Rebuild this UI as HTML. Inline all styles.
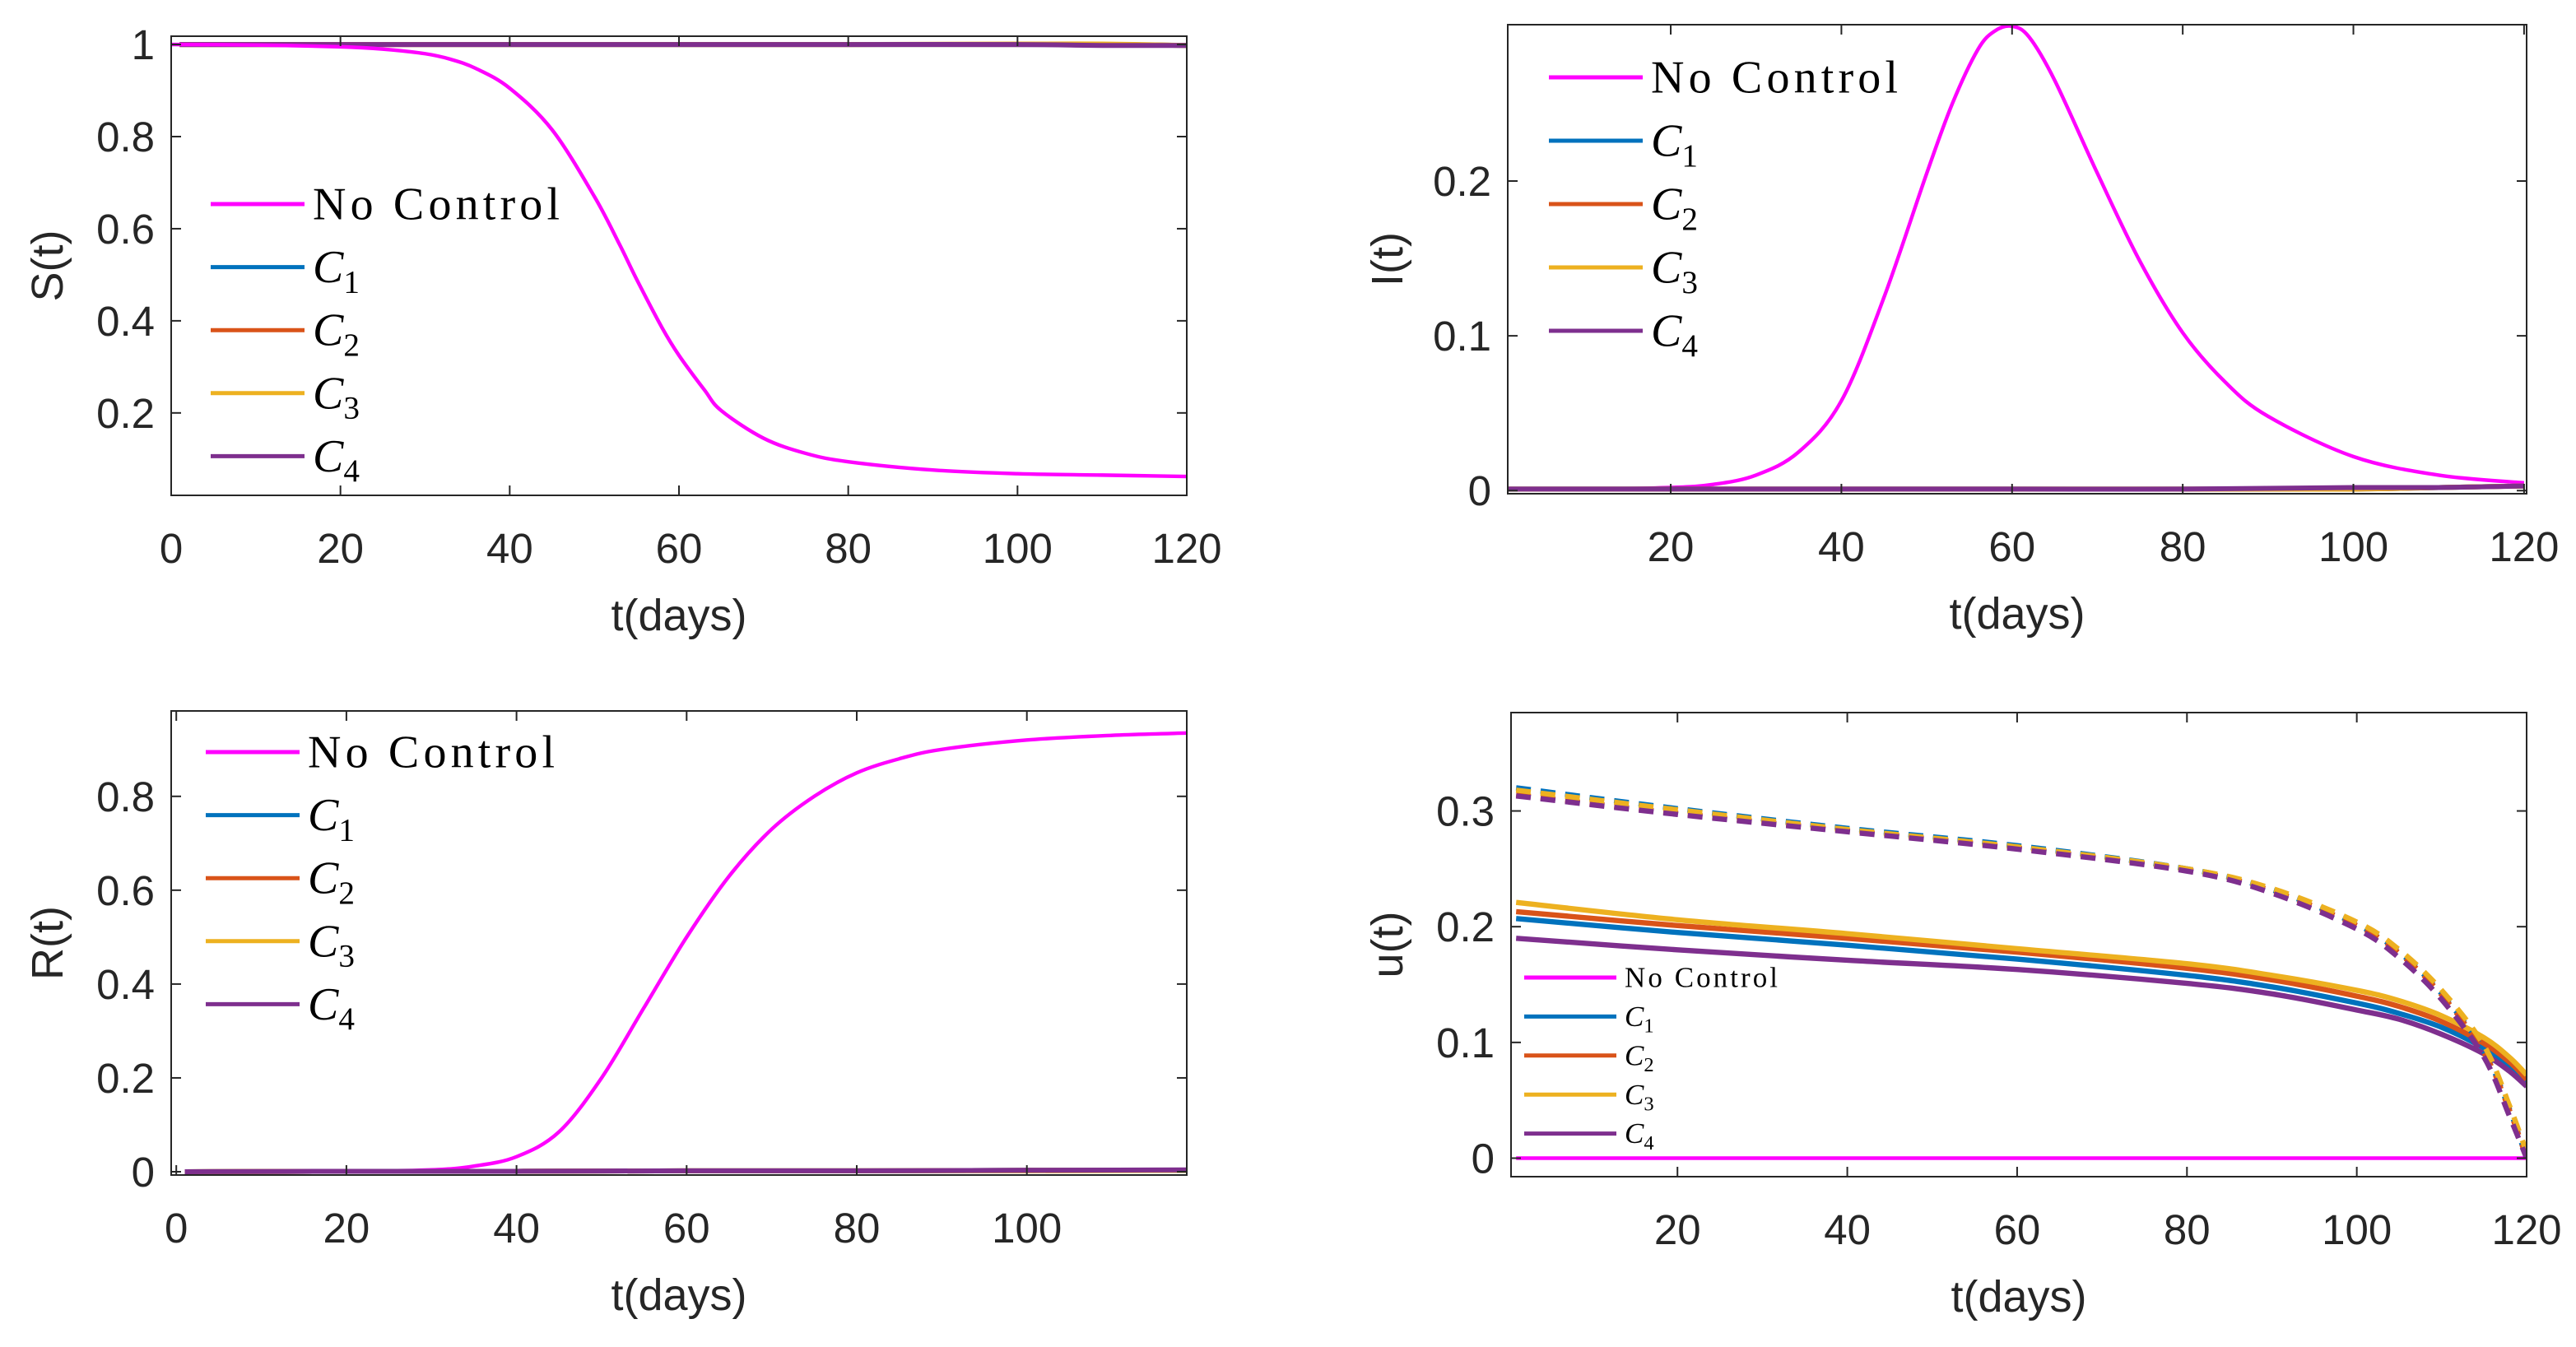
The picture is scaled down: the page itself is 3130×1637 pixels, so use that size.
<!DOCTYPE html>
<html><head><meta charset="utf-8"><style>
html,body{margin:0;padding:0;background:#fff;}
svg{display:block;}
</style></head><body>
<svg id="fig" xmlns="http://www.w3.org/2000/svg" width="3130" height="1637" viewBox="0 0 1565 818.5"></svg>
<script>
// ---- data ----
const tS = [0,10,20,25,30,33,36,40,45,50,53,55,58,60,63,65,70,75,80,90,100,110,120];
const sNoControl = [1,0.999,0.995,0.99,0.98,0.968,0.948,0.905,0.815,0.67,0.565,0.49,0.385,0.325,0.25,0.205,0.145,0.112,0.094,0.076,0.068,0.065,0.062];
const tCtrl = [1,20,40,60,80,100,110,120];
const sC1 = [1,1,1,1,1,1,1,0.998];
const sC2 = [1,1,1,1,1,1,1,0.998];
const sC3 = [1,1,1,1,1,1.001,1.001,0.998];
const sC4 = [1,1,1,1,1,1,0.998,0.998];

const tI = [1,10,20,25,30,35,40,45,50,53,56,58,60,62,65,70,75,80,85,90,100,110,120];
const iNoControl = [0.001,0.001,0.002,0.004,0.01,0.025,0.058,0.125,0.205,0.25,0.285,0.297,0.3,0.293,0.265,0.205,0.148,0.102,0.07,0.048,0.022,0.01,0.005];
const iC1 = [0.001,0.001,0.001,0.001,0.001,0.001,0.002,0.003];
const iC2 = [0.001,0.001,0.001,0.001,0.001,0.001,0.002,0.003];
const iC3 = [0.001,0.001,0.001,0.001,0.001,0.001,0.002,0.003];
const iC4 = [0.001,0.001,0.001,0.001,0.001,0.002,0.002,0.003];

const tR = [1,20,30,35,40,45,50,55,60,65,70,75,80,85,90,100,110,119];
const rNoControl = [0,0.001,0.004,0.012,0.032,0.085,0.2,0.35,0.5,0.63,0.73,0.8,0.85,0.88,0.9,0.92,0.93,0.935];
const tRc = [1,20,40,60,80,100,119];
const rC1 = [0,0.001,0.001,0.002,0.002,0.003,0.003];
const rC2 = [0,0.001,0.001,0.002,0.002,0.003,0.003];
const rC3 = [0,0.001,0.001,0.002,0.002,0.002,0.003];
const rC4 = [0,0.001,0.001,0.002,0.002,0.003,0.004];

const tU = [1,20,40,60,80,90,100,105,110,115,118,120];
const uNoControl = [0,0,0,0,0,0,0,0,0,0,0,0];
const uC1 = [0.207,0.195,0.184,0.172,0.158,0.148,0.134,0.125,0.113,0.095,0.08,0.065];
const uC2 = [0.213,0.201,0.19,0.178,0.164,0.154,0.14,0.131,0.118,0.099,0.083,0.068];
const uC3 = [0.221,0.206,0.194,0.181,0.168,0.158,0.145,0.136,0.123,0.104,0.087,0.072];
const uC4 = [0.19,0.18,0.171,0.163,0.151,0.142,0.128,0.12,0.107,0.09,0.075,0.062];
const uDashC1 = [0.32,0.302,0.285,0.27,0.25,0.232,0.202,0.178,0.142,0.092,0.042,0.0];
const uDashC2 = [0.314,0.298,0.283,0.268,0.249,0.231,0.201,0.177,0.141,0.091,0.041,0.0];
const uDashC3 = [0.318,0.301,0.284,0.269,0.25,0.233,0.204,0.18,0.145,0.097,0.045,0.005];
const uDashC4 = [0.313,0.297,0.282,0.267,0.248,0.229,0.198,0.173,0.137,0.087,0.036,0.0];

const xTicks1 = [0,20,40,60,80,100,120];
const xTicks2 = [20,40,60,80,100,120];
const xTicks3 = [0,20,40,60,80,100];
const yTicksS = [0.2,0.4,0.6,0.8,1];
const yTicksI = [0,0.1,0.2];
const yTicksR = [0,0.2,0.4,0.6,0.8];
const yTicksU = [0,0.1,0.2,0.3];

const COL = {nc:'#FF00FF',c1:'#0072BD',c2:'#D95319',c3:'#EDB120',c4:'#7E2F8E'};
const NS='http://www.w3.org/2000/svg';
const svg=document.getElementById('fig');
function mk(tag,attrs,parent){const e=document.createElementNS(NS,tag);for(const k in attrs)e.setAttribute(k,attrs[k]);(parent||svg).appendChild(e);return e;}

function smoothPath(P){
  let d='M'+P[0][0].toFixed(2)+','+P[0][1].toFixed(2);
  for(let i=0;i<P.length-1;i++){
    const p0=P[Math.max(0,i-1)],p1=P[i],p2=P[i+1],p3=P[Math.min(P.length-1,i+2)];
    const c1x=p1[0]+(p2[0]-p0[0])/6,c1y=p1[1]+(p2[1]-p0[1])/6;
    const c2x=p2[0]-(p3[0]-p1[0])/6,c2y=p2[1]-(p3[1]-p1[1])/6;
    d+='C'+c1x.toFixed(2)+','+c1y.toFixed(2)+' '+c2x.toFixed(2)+','+c2y.toFixed(2)+' '+p2[0].toFixed(2)+','+p2[1].toFixed(2);
  }
  return d;
}

function panel(cfg){
  const g=mk('g',{});
  
  
  const sx=v=>cfg.x0+(v-cfg.xmin)/(cfg.xmax-cfg.xmin)*(cfg.x1-cfg.x0);
  const sy=v=>cfg.y1-(v-cfg.ymin)/(cfg.ymax-cfg.ymin)*(cfg.y1-cfg.y0);
  const clip='clip-'+cfg.name;
  const cp=mk('clipPath',{id:clip},g);
  mk('rect',{x:cfg.x0,y:cfg.y0,width:cfg.x1-cfg.x0,height:cfg.y1-cfg.y0},cp);
  const pg=mk('g',{'clip-path':'url(#'+clip+')'},g);
  cfg.series.forEach(s=>{
    const P=s.t.map((t,i)=>[sx(t),sy(s.v[i])]);
    const p=mk('path',{d:smoothPath(P),fill:'none',stroke:s.c,'stroke-width':s.w||2,'stroke-linejoin':'round'},pg);
    if(s.dash)p.setAttribute('stroke-dasharray',s.dash);
    
    
  });
  const box=mk('rect',{x:cfg.x0,y:cfg.y0,width:cfg.x1-cfg.x0,height:cfg.y1-cfg.y0,fill:'none',stroke:'#262626','stroke-width':1},g);
  
  
  cfg.xt.forEach(v=>{
    const x=sx(v);
    mk('line',{x1:x,x2:x,y1:cfg.y1,y2:cfg.y1-6,stroke:'#262626','stroke-width':1},g);
    mk('line',{x1:x,x2:x,y1:cfg.y0,y2:cfg.y0+6,stroke:'#262626','stroke-width':1},g);
    const t=mk('text',{x:x,y:cfg.y1+41,'text-anchor':'middle','font-size':25.5,fill:'#262626','font-family':'Liberation Sans, sans-serif'},g);
    t.textContent=v;
    
    
  });
  cfg.yt.forEach(v=>{
    const y=sy(v);
    mk('line',{x1:cfg.x0,x2:cfg.x0+6,y1:y,y2:y,stroke:'#262626','stroke-width':1},g);
    mk('line',{x1:cfg.x1,x2:cfg.x1-6,y1:y,y2:y,stroke:'#262626','stroke-width':1},g);
    const t=mk('text',{x:cfg.x0-10,y:y+9,'text-anchor':'end','font-size':25.5,fill:'#262626','font-family':'Liberation Sans, sans-serif'},g);
    t.textContent=v;
    
    
  });
  const xl=mk('text',{x:(cfg.x0+cfg.x1)/2,y:cfg.y1+82,'text-anchor':'middle','font-size':27,fill:'#262626','font-family':'Liberation Sans, sans-serif'},g);
  xl.textContent='t(days)';
  
  
  const yx=cfg.ylx, yy=(cfg.y0+cfg.y1)/2;
  const yl=mk('text',{x:yx,y:yy,'text-anchor':'middle','font-size':27,fill:'#262626','font-family':'Liberation Sans, sans-serif',transform:'rotate(-90 '+yx+' '+yy+')'},g);
  yl.textContent=cfg.ylabel;
  
  
  const L=cfg.leg;
  const items=[['No Control',null,COL.nc],['C','1',COL.c1],['C','2',COL.c2],['C','3',COL.c3],['C','4',COL.c4]];
  items.forEach((it,i)=>{
    const y=L.y+i*L.dy;
    const lg=mk('g',{},g);
    
    
    mk('line',{x1:L.x,x2:L.x+L.len,y1:y,y2:y,stroke:it[2],'stroke-width':L.lw},lg);
    const t=mk('text',{x:L.x+L.len+5,y:y+L.fs*0.33,'font-size':L.fs,fill:'#000','font-family':'Liberation Serif, serif'},lg);
    if(it[1]===null){t.textContent=it[0];t.setAttribute('textLength',L.ncw);}
    else{
      const a=mk('tspan',{'font-style':'italic'},t);a.textContent='C';
      const b=mk('tspan',{'font-size':L.fs*0.7,dy:L.fs*0.22},t);b.textContent=it[1];
    }
  });
}

panel({name:'s-panel',x0:104,x1:721,y0:22,y1:301,xmin:0,xmax:120,ymin:0.021,ymax:1.018,xt:xTicks1,yt:yTicksS,ylabel:'S(t)',ylx:38,
  leg:{x:128,y:124,dy:38.3,len:57,lw:2.5,fs:28,ncw:150},
  series:[{n:'s-c1',t:tCtrl,v:sC1,c:COL.c1,w:3},{n:'s-c2',t:tCtrl,v:sC2,c:COL.c2,w:3},{n:'s-c3',t:tCtrl,v:sC3,c:COL.c3,w:3},{n:'s-c4',t:tCtrl,v:sC4,c:COL.c4,w:3},{n:'s-no-control',t:tS,v:sNoControl,c:COL.nc,w:2.2}]});

panel({name:'i-panel',x0:916,x1:1535,y0:15,y1:300,xmin:0.9,xmax:120.3,ymin:-0.002,ymax:0.301,xt:xTicks2,yt:yTicksI,ylabel:'I(t)',ylx:852,
  leg:{x:941,y:47,dy:38.5,len:57,lw:2.5,fs:28,ncw:150},
  series:[{n:'i-no-control',t:tI,v:iNoControl,c:COL.nc,w:2.2},{n:'i-c1',t:tCtrl,v:iC1,c:COL.c1,w:3},{n:'i-c2',t:tCtrl,v:iC2,c:COL.c2,w:3},{n:'i-c3',t:tCtrl,v:iC3,c:COL.c3,w:3},{n:'i-c4',t:tCtrl,v:iC4,c:COL.c4,w:3}]});

panel({name:'r-panel',x0:104,x1:721,y0:432,y1:714,xmin:-0.6,xmax:118.8,ymin:-0.007,ymax:0.982,xt:xTicks3,yt:yTicksR,ylabel:'R(t)',ylx:38,
  leg:{x:125,y:457,dy:38.3,len:57,lw:2.5,fs:28,ncw:150},
  series:[{n:'r-no-control',t:tR,v:rNoControl,c:COL.nc,w:2.2},{n:'r-c1',t:tRc,v:rC1,c:COL.c1,w:3},{n:'r-c2',t:tRc,v:rC2,c:COL.c2,w:3},{n:'r-c3',t:tRc,v:rC3,c:COL.c3,w:3},{n:'r-c4',t:tRc,v:rC4,c:COL.c4,w:3}]});

panel({name:'u-panel',x0:918,x1:1535,y0:433,y1:715,xmin:0.4,xmax:120,ymin:-0.016,ymax:0.385,xt:xTicks2,yt:yTicksU,ylabel:'u(t)',ylx:852,
  leg:{x:926,y:594,dy:23.7,len:56,lw:2.5,fs:17.5,ncw:93},
  series:[{n:'u-no-control',t:tU,v:uNoControl,c:COL.nc,w:2.2},
  {n:'u-c1',t:tU,v:uC1,c:COL.c1,w:3.2},{n:'u-c2',t:tU,v:uC2,c:COL.c2,w:3.2},{n:'u-c3',t:tU,v:uC3,c:COL.c3,w:3.2},{n:'u-c4',t:tU,v:uC4,c:COL.c4,w:3.2},
  {n:'u-dash-c1',t:tU,v:uDashC1,c:COL.c1,w:3.2,dash:'9 6'},{n:'u-dash-c2',t:tU,v:uDashC2,c:COL.c2,w:3.2,dash:'9 6'},{n:'u-dash-c3',t:tU,v:uDashC3,c:COL.c3,w:3.2,dash:'9 6'},{n:'u-dash-c4',t:tU,v:uDashC4,c:COL.c4,w:3.2,dash:'9 6'}]});
</script>
</body></html>
